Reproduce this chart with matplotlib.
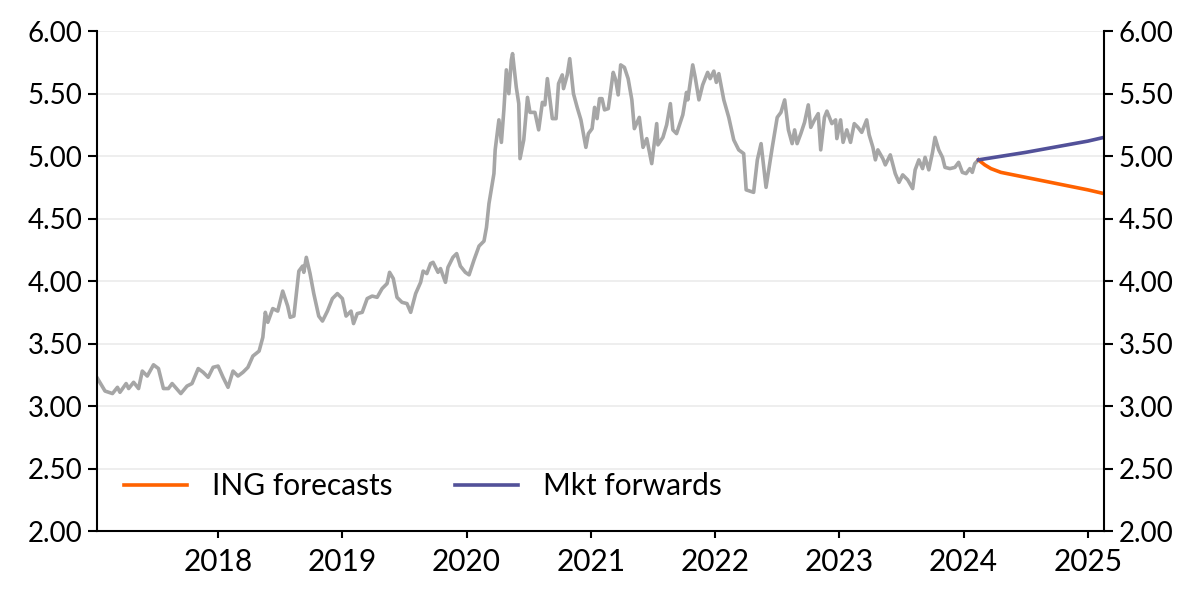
import matplotlib.pyplot as plt

# weekly-ish history (decimal years)
years = [2017.03, 2017.09, 2017.15, 2017.19, 2017.21, 2017.26, 2017.28, 2017.32, 2017.36, 2017.39,
         2017.43, 2017.48, 2017.52, 2017.56, 2017.60, 2017.63, 2017.70, 2017.75, 2017.79, 2017.84,
         2017.88, 2017.92, 2017.96, 2018.00, 2018.04, 2018.08, 2018.12, 2018.16, 2018.20, 2018.24,
         2018.28, 2018.33, 2018.36, 2018.38, 2018.40, 2018.44, 2018.48, 2018.52, 2018.56, 2018.58,
         2018.61, 2018.65, 2018.68, 2018.69, 2018.71, 2018.74, 2018.77, 2018.81, 2018.84, 2018.88,
         2018.92, 2018.96, 2019.00, 2019.03, 2019.07, 2019.09, 2019.12, 2019.16, 2019.20, 2019.24,
         2019.28, 2019.32, 2019.36, 2019.38, 2019.41, 2019.44, 2019.48, 2019.52, 2019.55, 2019.59,
         2019.63, 2019.65, 2019.68, 2019.71, 2019.73, 2019.77, 2019.79, 2019.83, 2019.85, 2019.89,
         2019.92, 2019.95, 2019.99, 2020.02, 2020.06, 2020.10, 2020.14, 2020.16, 2020.18, 2020.22,
         2020.23, 2020.26, 2020.28, 2020.30, 2020.32, 2020.34, 2020.36, 2020.37, 2020.40, 2020.42,
         2020.43, 2020.46, 2020.49, 2020.51, 2020.55, 2020.58, 2020.61, 2020.63, 2020.65, 2020.69,
         2020.72, 2020.74, 2020.77, 2020.78, 2020.81, 2020.83, 2020.86, 2020.89, 2020.92, 2020.96,
         2020.98, 2021.01, 2021.03, 2021.05, 2021.07, 2021.09, 2021.11, 2021.14, 2021.18, 2021.20,
         2021.22, 2021.24, 2021.27, 2021.30, 2021.33, 2021.35, 2021.39, 2021.42, 2021.45, 2021.49,
         2021.53, 2021.54, 2021.58, 2021.61, 2021.64, 2021.66, 2021.69, 2021.74, 2021.77, 2021.78,
         2021.82, 2021.84, 2021.87, 2021.90, 2021.94, 2021.96, 2021.99, 2022.01, 2022.03, 2022.07,
         2022.11, 2022.15, 2022.19, 2022.23, 2022.25, 2022.28, 2022.31, 2022.34, 2022.37, 2022.41,
         2022.46, 2022.50, 2022.53, 2022.56, 2022.59, 2022.62, 2022.64, 2022.66, 2022.69, 2022.72,
         2022.75, 2022.77, 2022.80, 2022.83, 2022.85, 2022.88, 2022.90, 2022.94, 2022.97, 2022.98,
         2023.01, 2023.03, 2023.06, 2023.09, 2023.12, 2023.15, 2023.18, 2023.22, 2023.24, 2023.27,
         2023.29, 2023.31, 2023.35, 2023.37, 2023.41, 2023.45, 2023.48, 2023.51, 2023.55, 2023.59,
         2023.61, 2023.64, 2023.67, 2023.69, 2023.72, 2023.75, 2023.77, 2023.80, 2023.83, 2023.85,
         2023.89, 2023.93, 2023.96, 2023.99, 2024.02, 2024.05, 2024.07, 2024.09, 2024.12]
history = [3.22, 3.12, 3.10, 3.15, 3.11, 3.18, 3.14, 3.19, 3.14, 3.28,
           3.24, 3.33, 3.30, 3.14, 3.14, 3.18, 3.10, 3.16, 3.18, 3.30,
           3.27, 3.23, 3.31, 3.32, 3.23, 3.15, 3.28, 3.24, 3.27, 3.31,
           3.40, 3.44, 3.55, 3.75, 3.67, 3.78, 3.76, 3.92, 3.80, 3.71,
           3.72, 4.08, 4.12, 4.07, 4.19, 4.06, 3.90, 3.72, 3.68, 3.76,
           3.86, 3.90, 3.86, 3.72, 3.76, 3.66, 3.74, 3.75, 3.86, 3.88,
           3.87, 3.94, 3.98, 4.07, 4.02, 3.87, 3.83, 3.82, 3.75, 3.90,
           3.99, 4.08, 4.06, 4.14, 4.15, 4.07, 4.10, 3.99, 4.11, 4.19,
           4.22, 4.12, 4.07, 4.05, 4.17, 4.28, 4.32, 4.43, 4.62, 4.86,
           5.05, 5.29, 5.11, 5.37, 5.69, 5.50, 5.77, 5.82, 5.55, 5.42,
           4.98, 5.13, 5.47, 5.35, 5.35, 5.21, 5.43, 5.41, 5.62, 5.30,
           5.30, 5.58, 5.65, 5.54, 5.65, 5.78, 5.50, 5.39, 5.29, 5.07,
           5.18, 5.22, 5.39, 5.30, 5.46, 5.46, 5.37, 5.38, 5.67, 5.61,
           5.49, 5.73, 5.71, 5.62, 5.45, 5.22, 5.31, 5.07, 5.14, 4.94,
           5.26, 5.09, 5.15, 5.25, 5.42, 5.21, 5.18, 5.33, 5.51, 5.45,
           5.73, 5.63, 5.45, 5.57, 5.67, 5.62, 5.68, 5.59, 5.66, 5.45,
           5.31, 5.13, 5.05, 5.02, 4.73, 4.72, 4.71, 4.97, 5.10, 4.75,
           5.07, 5.31, 5.35, 5.45, 5.21, 5.10, 5.21, 5.10, 5.18, 5.27,
           5.41, 5.23, 5.29, 5.34, 5.05, 5.31, 5.36, 5.26, 5.29, 5.14,
           5.29, 5.11, 5.21, 5.11, 5.26, 5.23, 5.19, 5.29, 5.17, 5.07,
           4.97, 5.05, 4.98, 4.93, 5.01, 4.86, 4.79, 4.85, 4.81, 4.74,
           4.89, 4.97, 4.90, 4.99, 4.89, 5.03, 5.15, 5.05, 4.99, 4.91,
           4.90, 4.91, 4.95, 4.87, 4.86, 4.90, 4.87, 4.94, 4.97]

ing_years = [2024.12, 2024.17, 2024.22, 2024.30, 2024.40, 2024.60, 2024.80, 2025.00, 2025.13]
ing_fc = [4.97, 4.93, 4.90, 4.87, 4.85, 4.81, 4.77, 4.73, 4.70]

fwd_years = [2024.12, 2024.50, 2025.00, 2025.13]
mkt_fwd = [4.97, 5.03, 5.12, 5.15]

year_ticks = [2018, 2019, 2020, 2021, 2022, 2023, 2024, 2025]
y_ticks = [2.0, 2.5, 3.0, 3.5, 4.0, 4.5, 5.0, 5.5, 6.0]

plt.rcParams['font.family'] = ['Lato', 'DejaVu Sans']
plt.rcParams['font.size'] = 20

fig, ax = plt.subplots(figsize=(12, 5.99), dpi=100)
fig.subplots_adjust(left=0.081, right=0.92, top=0.948, bottom=0.1135)

ax.plot(years, history, color='#a6a6a6', lw=2.6, solid_joinstyle='round')
ax.plot(ing_years, ing_fc, color='#ff6200', lw=2.6, label='ING forecasts')
ax.plot(fwd_years, mkt_fwd, color='#525199', lw=2.6, label='Mkt forwards')

ax.set_xlim(2017.027, 2025.13)
ax.set_ylim(2, 6)
ax.set_xticks(year_ticks)
ax.set_xticklabels([str(y) for y in year_ticks], fontsize=21.5)
ax.set_yticks(y_ticks)
ax.set_yticklabels([f'{v:.2f}' for v in y_ticks])
ax.yaxis.grid(True, color='#ebebeb', lw=1.2)
ax.set_axisbelow(True)

ax.spines['top'].set_visible(False)
for s in ['left', 'right', 'bottom']:
    ax.spines[s].set_linewidth(1.5)
ax.tick_params(axis='y', which='both', left=True, right=True, labelleft=True,
               labelright=True, length=6.5, width=1.5, pad=4)
ax.tick_params(axis='x', length=5, width=1.5, pad=7)

ax.legend(loc='lower left', ncol=2, frameon=False, bbox_to_anchor=(0.0, 0.008),
          fontsize=21.5, handlelength=2.1, handletextpad=0.85, columnspacing=2.1)

fig.savefig('out.png', dpi=100)
